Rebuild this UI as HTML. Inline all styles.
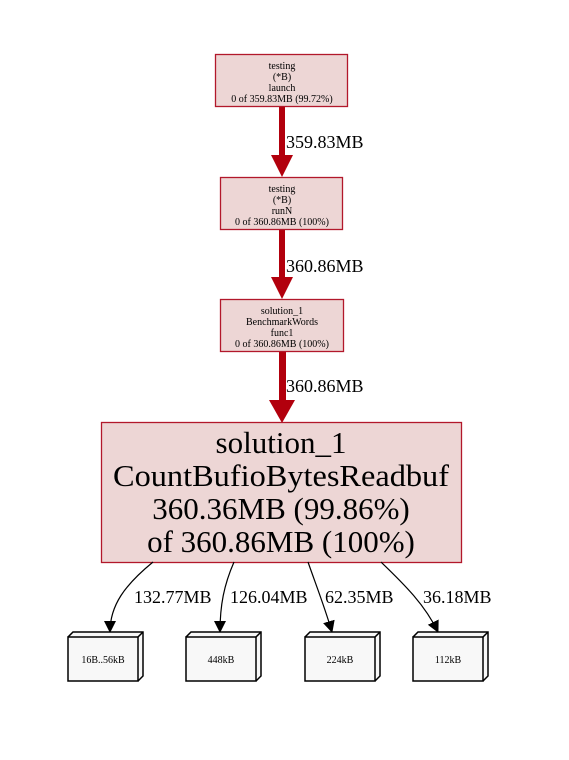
<!DOCTYPE html>
<html><head><meta charset="utf-8"><style>html,body{margin:0;padding:0;background:#fff}svg{display:block}</style></head>
<body>
<svg width="569" height="760" viewBox="0 0 569 760" xmlns="http://www.w3.org/2000/svg" font-family="Liberation Serif, serif">
<defs>
<marker id="ah" markerWidth="12" markerHeight="14" refX="11" refY="7" orient="auto" markerUnits="userSpaceOnUse"><path d="M0,1 L12,7 L0,13 z" fill="#000"/></marker>
</defs>
<rect width="569" height="760" fill="#fff"/>
<g fill="#b2000d" stroke="none">
<rect x="279" y="107" width="6" height="50"/>
<path d="M271,155 L293,155 L282,177 z"/>
<rect x="279" y="230" width="6" height="48"/>
<path d="M271,277 L293,277 L282,299 z"/>
<rect x="279" y="352" width="7" height="48"/>
<path d="M269,400 L295,400 L282,423 z"/>
</g>
<g font-size="18" fill="#000">
<text x="286" y="148">359.83MB</text>
<text x="286" y="272">360.86MB</text>
<text x="286" y="392">360.86MB</text>
</g>
<g fill="#edd6d5" stroke="#b2182b" stroke-width="1.3">
<rect x="215.5" y="54.5" width="132" height="52"/>
<rect x="220.5" y="177.5" width="122" height="52"/>
<rect x="220.5" y="299.5" width="123" height="52"/>
<rect x="101.5" y="422.5" width="360" height="140"/>
</g>
<g font-size="10" text-anchor="middle" fill="#000">
<text x="282" y="69">testing</text><text x="282" y="80">(*B)</text><text x="282" y="91">launch</text><text x="282" y="102">0 of 359.83MB (99.72%)</text>
<text x="282" y="192">testing</text><text x="282" y="203">(*B)</text><text x="282" y="214">runN</text><text x="282" y="225">0 of 360.86MB (100%)</text>
<text x="282" y="314">solution_1</text><text x="282" y="325">BenchmarkWords</text><text x="282" y="336">func1</text><text x="282" y="347">0 of 360.86MB (100%)</text>
</g>
<g font-size="31" text-anchor="middle" fill="#000">
<text x="281" y="453">solution_1</text>
<text x="281" y="486" textLength="336" lengthAdjust="spacingAndGlyphs">CountBufioBytesReadbuf</text>
<text x="281" y="519">360.36MB (99.86%)</text>
<text x="281" y="552">of 360.86MB (100%)</text>
</g>
<g fill="none" stroke="#000" stroke-width="1.2" marker-end="url(#ah)">
<path d="M153,562 C125,585 110,605 110,632"/>
<path d="M234,562 C224,585 220,605 220,632"/>
<path d="M308,562 C316,585 324,605 332,632"/>
<path d="M381,562 C405,585 425,605 438,632"/>
</g>
<g font-size="18" fill="#000">
<text x="134" y="603">132.77MB</text>
<text x="230" y="603">126.04MB</text>
<text x="325" y="603">62.35MB</text>
<text x="423" y="603">36.18MB</text>
</g>
<g fill="#f8f8f8" stroke="#000" stroke-width="1.5">
<path d="M68,637 L73,632 L143,632 L143,676 L138,681"/>
<rect x="68" y="637" width="70" height="44"/>
<path d="M138,637 L143,632"/>
<path d="M186,637 L191,632 L261,632 L261,676 L256,681"/>
<rect x="186" y="637" width="70" height="44"/>
<path d="M256,637 L261,632"/>
<path d="M305,637 L310,632 L380,632 L380,676 L375,681"/>
<rect x="305" y="637" width="70" height="44"/>
<path d="M375,637 L380,632"/>
<path d="M413,637 L418,632 L488,632 L488,676 L483,681"/>
<rect x="413" y="637" width="70" height="44"/>
<path d="M483,637 L488,632"/>
</g>
<g font-size="10" text-anchor="middle" fill="#000">
<text x="103" y="663">16B..56kB</text>
<text x="221" y="663">448kB</text>
<text x="340" y="663">224kB</text>
<text x="448" y="663">112kB</text>
</g>
</svg>
</body></html>
